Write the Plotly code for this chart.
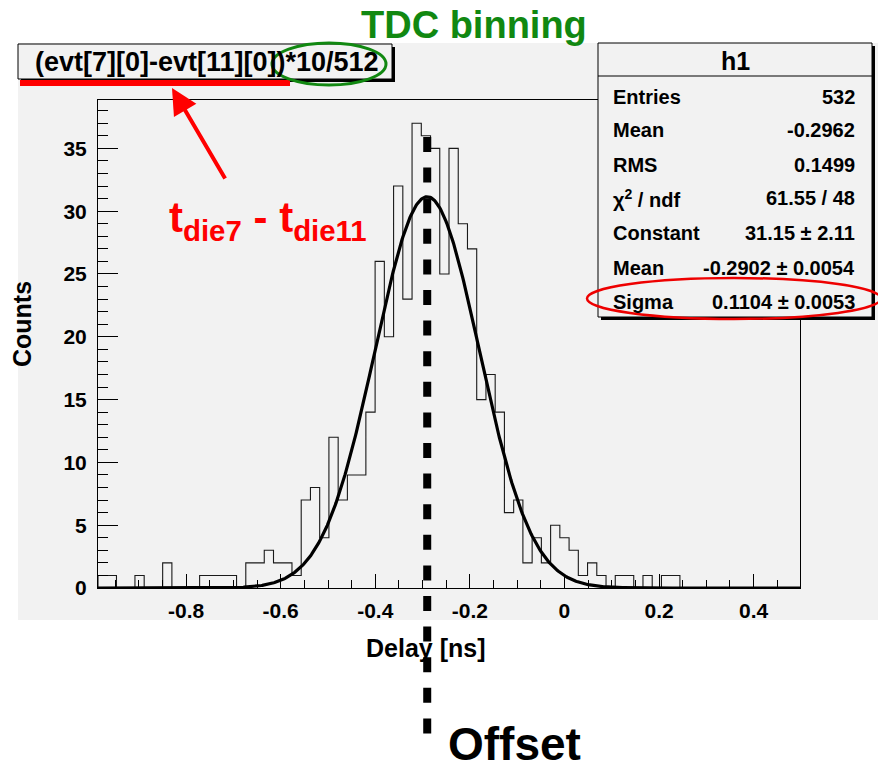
import numpy as np
import plotly.graph_objects as go

# ---------------- data ----------------
TDC_BIN = 10 / 512  # ns per TDC count
bin_index = list(range(-50, 26))
counts = [1, 1, 0, 0, 1, 0, 0, 2, 0, 0,
          0, 1, 1, 1, 1, 0, 2, 2, 3, 2,
          2, 1, 7, 8, 4, 12, 7, 9, 9, 14,
          26, 20, 32, 23, 37, 36, 35, 25, 35, 29,
          27, 15, 17, 14, 6, 7, 2, 4, 2, 5,
          4, 3, 1, 2, 1, 0, 1, 1, 0, 1,
          0, 1, 1, 0, 0, 0, 0, 0, 0, 0,
          0, 0, 0, 0, 0, 0]

fit_constant = 31.15
fit_mean = -0.2902
fit_sigma = 0.1104

x_tick_vals = [-0.8, -0.6, -0.4, -0.2, 0.0, 0.2, 0.4]
x_tick_text = ["-0.8", "-0.6", "-0.4", "-0.2", "0", "0.2", "0.4"]
y_tick_vals = [0, 5, 10, 15, 20, 25, 30, 35]

stat_labels = ["Entries", "Mean", "RMS", "χ<sup>2</sup> / ndf", "Constant", "Mean", "Sigma"]
stat_values = ["532", "-0.2962", "0.1499", "61.55 / 48", "31.15 ± 2.11",
               "-0.2902 ± 0.0054", "0.1104 ± 0.0053"]

# ---------------- derived ----------------
left_edges = [(k - 0.5) * TDC_BIN for k in bin_index]
right_end = (bin_index[-1] + 0.5) * TDC_BIN
x_min, x_max = left_edges[0], right_end
y_max = max(counts) * 1.05

step_x = [left_edges[0]] + left_edges + [right_end, right_end]
step_y = [0] + counts + [counts[-1], 0]

xf = np.linspace(x_min, x_max, 800)
yf = fit_constant * np.exp(-0.5 * ((xf - fit_mean) / fit_sigma) ** 2)

# pixel -> paper helpers (plot area: x 98..800, y 100..588 px)
L, R, T, B = 98, 800, 100, 588
W, H = 878, 771
def px(xp):
    return (xp - L) / (R - L)
def py(yp):
    return (B - yp) / (B - T)

BG = "#f2f2f2"
FONT = "Liberation Sans"

fig = go.Figure()
fig.add_trace(go.Scatter(x=step_x, y=step_y, mode="lines", line_shape="hv",
                         line=dict(color="#1a1a1a", width=1.1), hoverinfo="skip"))
fig.add_trace(go.Scatter(x=xf, y=yf, mode="lines",
                         line=dict(color="black", width=3.2), hoverinfo="skip"))

shapes = []
# ROOT canvas gray
shapes.append(dict(type="rect", xref="paper", yref="paper", layer="below",
                   x0=px(18), x1=px(878), y0=py(620), y1=py(43),
                   fillcolor=BG, line=dict(width=0)))
# title box + shadow
shapes.append(dict(type="rect", xref="paper", yref="paper", layer="above",
                   x0=px(21), x1=px(395), y0=py(82), y1=py(47),
                   fillcolor="black", line=dict(width=0)))
shapes.append(dict(type="rect", xref="paper", yref="paper", layer="above",
                   x0=px(18), x1=px(392), y0=py(79), y1=py(44),
                   fillcolor=BG, line=dict(color="black", width=1)))
# stats box + shadow
shapes.append(dict(type="rect", xref="paper", yref="paper", layer="above",
                   x0=px(601), x1=px(875), y0=py(320), y1=py(46),
                   fillcolor="black", line=dict(width=0)))
shapes.append(dict(type="rect", xref="paper", yref="paper", layer="above",
                   x0=px(598), x1=px(872), y0=py(317), y1=py(43),
                   fillcolor=BG, line=dict(color="black", width=1)))
shapes.append(dict(type="line", xref="paper", yref="paper", layer="above",
                   x0=px(598), x1=px(872), y0=py(76), y1=py(76),
                   line=dict(color="black", width=1)))
# red underline
shapes.append(dict(type="line", xref="paper", yref="paper", layer="above",
                   x0=px(20), x1=px(290), y0=py(83), y1=py(83),
                   line=dict(color="#ff0000", width=6)))
# green ellipse
shapes.append(dict(type="circle", xref="paper", yref="paper", layer="above",
                   x0=px(272), x1=px(386), y0=py(85), y1=py(43),
                   line=dict(color="#118811", width=3)))
# red ellipse
shapes.append(dict(type="circle", xref="paper", yref="paper", layer="above",
                   x0=px(587), x1=px(881), y0=py(319), y1=py(278),
                   line=dict(color="#ee0000", width=2.5)))
# dashed offset line at the fitted mean
shapes.append(dict(type="line", xref="x", yref="paper", layer="above",
                   x0=fit_mean, x1=fit_mean, y0=py(137), y1=py(735),
                   line=dict(color="black", width=8, dash="15px,15.6px")))

ann = []
def bold(size, color="black"):
    return dict(family=FONT, size=size, color=color, weight="bold")

def text_at(text, xp, yp, size, color="black", xanchor="center", yanchor="middle", **kw):
    ann.append(dict(text=text, x=px(xp), y=py(yp), xref="paper", yref="paper",
                    xanchor=xanchor, yanchor=yanchor, showarrow=False,
                    font=bold(size, color), **kw))

text_at("TDC binning", 474, 25, 38, "#118811")
text_at("(evt[7][0]-evt[11][0])*10/512", 207, 62, 27)
text_at("h1", 735, 61, 25)
row_y = [96.7, 130, 165, 198.3, 233.3, 267.7, 301.7]
for lab, val, yy in zip(stat_labels, stat_values, row_y):
    text_at(lab, 611, yy, 20, xanchor="left")
    text_at(val, 857, yy, 20, xanchor="right")
# arrow
ann.append(dict(text="", x=px(172), y=py(88), xref="paper", yref="paper",
                ax=54, ay=92, showarrow=True, arrowhead=2, arrowsize=1.3,
                arrowwidth=4, arrowcolor="#ff0000"))
text_at("t<sub>die7</sub> - t<sub>die11</sub>", 268, 220, 42, "#ff0000")
text_at("Counts", 22, 324, 25, textangle=-90)
text_at("Delay [ns]", 425, 648, 25)
text_at("Offset", 514, 771, 46, yanchor="bottom", borderpad=0)

fig.update_layout(
    width=W, height=H, autosize=False,
    margin=dict(l=L, r=W - R, t=T, b=H - B, pad=0),
    paper_bgcolor="white", plot_bgcolor=BG,
    showlegend=False,
    shapes=shapes, annotations=ann,
    xaxis=dict(range=[x_min, x_max], tickvals=x_tick_vals, ticktext=x_tick_text,
               ticks="inside", ticklen=14, tickcolor="black", tickwidth=1,
               minor=dict(dtick=0.05, tick0=0, ticks="inside", ticklen=8,
                          tickcolor="black", tickwidth=1),
               showline=True, linecolor="black", linewidth=1, mirror=True,
               showgrid=False, zeroline=False, ticklabelstandoff=4,
               tickfont=bold(21)),
    yaxis=dict(range=[0, y_max], tickvals=y_tick_vals,
               ticks="inside", ticklen=20, tickcolor="black", tickwidth=1,
               minor=dict(dtick=1, tick0=0, ticks="inside", ticklen=10,
                          tickcolor="black", tickwidth=1),
               showline=True, linecolor="black", linewidth=1, mirror=True,
               showgrid=False, zeroline=False, ticklabelstandoff=6,
               tickfont=bold(21)),
)

fig.write_html("out.html")
